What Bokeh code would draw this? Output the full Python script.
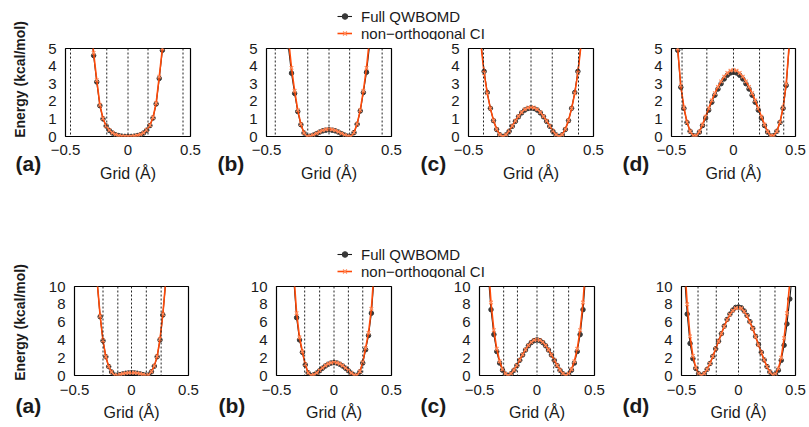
import math
from bokeh.plotting import figure
from bokeh.models import Range1d, FixedTicker, Span, Legend, LegendItem, ColumnDataSource, Plot
from bokeh.layouts import column, row
from bokeh.core.properties import value
from bokeh.embed import file_html
from bokeh.resources import INLINE

N = float("nan")

# grid (Angstrom)
X = [-0.475, -0.45, -0.425, -0.4, -0.375, -0.35, -0.325, -0.3, -0.275, -0.25,
     -0.225, -0.2, -0.175, -0.15, -0.125, -0.1, -0.075, -0.05, -0.025, 0.0,
     0.025, 0.05, 0.075, 0.1, 0.125, 0.15, 0.175, 0.2, 0.225, 0.25,
     0.275, 0.3, 0.325, 0.35, 0.375, 0.4, 0.425, 0.45, 0.475]

# ---- top row (kcal/mol, 0-5) ----
QW_TOP_A = [N, N, N, N, N, N, N, 6.5, 4.6, 3.1, 1.75, 1.0, 0.6, 0.35, 0.2, 0.1, 0.05, 0.02, 0.005, 0.0,
            0.005, 0.02, 0.05, 0.1, 0.2, 0.36, 0.62, 1.05, 1.85, 3.3, 4.9, 6.8, N, N, N, N, N, N, N]
CI_TOP_A = [N, N, N, N, N, N, N, 6.6, 4.75, 3.2, 1.8, 1.02, 0.6, 0.36, 0.21, 0.11, 0.05, 0.02, 0.01, 0.0,
            0.01, 0.03, 0.06, 0.11, 0.21, 0.37, 0.64, 1.08, 1.9, 3.4, 5.0, 6.9, N, N, N, N, N, N, N]
QW_TOP_B = [N, N, N, N, N, 7.0, 5.1, 3.6, 2.45, 1.42, 0.67, 0.2, 0.0, 0.02, 0.08, 0.16, 0.25, 0.32, 0.36, 0.38,
            0.36, 0.32, 0.25, 0.16, 0.08, 0.02, 0.0, 0.22, 0.7, 1.45, 2.5, 3.65, 5.2, 7.1, N, N, N, N, N]
CI_TOP_B = [N, N, N, N, N, 7.5, 5.6, 3.9, 2.6, 1.5, 0.7, 0.2, 0.0, 0.025, 0.09, 0.18, 0.27, 0.35, 0.40, 0.42,
            0.40, 0.35, 0.27, 0.18, 0.09, 0.025, 0.0, 0.22, 0.72, 1.5, 2.6, 3.9, 5.6, 7.5, N, N, N, N, N]
QW_TOP_C = [N, N, 7.3, 5.3, 3.7, 2.5, 1.6, 0.9, 0.4, 0.1, 0.0, 0.09, 0.3, 0.58, 0.86, 1.12, 1.34, 1.5, 1.59, 1.62,
            1.59, 1.5, 1.34, 1.12, 0.86, 0.58, 0.3, 0.09, 0.0, 0.1, 0.4, 0.9, 1.6, 2.5, 3.7, 5.3, 7.3, N, N]
CI_TOP_C = [N, N, 7.2, 5.2, 3.6, 2.45, 1.6, 0.92, 0.42, 0.1, 0.0, 0.1, 0.32, 0.6, 0.89, 1.15, 1.38, 1.54, 1.63, 1.66,
            1.63, 1.54, 1.38, 1.15, 0.89, 0.6, 0.32, 0.1, 0.0, 0.1, 0.42, 0.92, 1.6, 2.45, 3.6, 5.2, 7.2, N, N]
QW_TOP_D = [7.5, 4.9, 2.8, 1.6, 0.8, 0.3, 0.05, 0.03, 0.25, 0.62, 1.05, 1.5, 1.95, 2.35, 2.7, 3.0, 3.27, 3.48, 3.61, 3.65,
            3.61, 3.48, 3.27, 3.0, 2.7, 2.35, 1.95, 1.5, 1.05, 0.62, 0.25, 0.03, 0.05, 0.3, 0.8, 1.6, 2.9, 5.2, 7.8]
CI_TOP_D = [7.6, 5.0, 2.9, 1.65, 0.82, 0.3, 0.05, 0.04, 0.28, 0.68, 1.13, 1.6, 2.05, 2.46, 2.82, 3.13, 3.4, 3.61, 3.74, 3.78,
            3.74, 3.61, 3.4, 3.13, 2.82, 2.46, 2.05, 1.6, 1.13, 0.68, 0.28, 0.04, 0.05, 0.3, 0.82, 1.65, 3.0, 5.3, 7.9]

# ---- bottom row (kcal/mol, 0-10) ----
QW_BOT_A = [N, N, N, N, N, N, N, 10.3, 6.6, 3.9, 2.1, 1.0, 0.4, 0.05, 0.03, 0.1, 0.18, 0.25, 0.29, 0.3,
            0.29, 0.25, 0.18, 0.1, 0.03, 0.06, 0.42, 1.05, 2.1, 4.0, 6.8, 10.5, N, N, N, N, N, N, N]
CI_BOT_A = [N, N, N, N, N, N, N, 10.4, 6.7, 3.95, 2.1, 1.0, 0.4, 0.05, 0.03, 0.11, 0.2, 0.27, 0.31, 0.32,
            0.31, 0.27, 0.2, 0.11, 0.03, 0.06, 0.43, 1.08, 2.15, 4.1, 6.9, 10.6, N, N, N, N, N, N, N]
QW_BOT_B = [N, N, N, N, N, 10.8, 6.5, 4.0, 2.6, 1.2, 0.3, 0.0, 0.08, 0.28, 0.54, 0.82, 1.07, 1.27, 1.40, 1.45,
            1.40, 1.27, 1.07, 0.82, 0.54, 0.26, 0.05, 0.02, 0.4, 1.4, 2.9, 4.5, 7.0, 11.2, N, N, N, N, N]
CI_BOT_B = [N, N, N, N, N, 11.5, 7.0, 4.3, 2.7, 1.25, 0.3, 0.0, 0.09, 0.3, 0.57, 0.86, 1.12, 1.32, 1.44, 1.48,
            1.44, 1.32, 1.12, 0.86, 0.57, 0.28, 0.06, 0.03, 0.45, 1.5, 3.1, 4.8, 7.5, 12.0, N, N, N, N, N]
QW_BOT_C = [N, N, 11.5, 7.4, 4.6, 2.7, 1.4, 0.6, 0.15, 0.0, 0.2, 0.59, 1.12, 1.71, 2.31, 2.86, 3.34, 3.70, 3.92, 4.0,
            3.92, 3.70, 3.34, 2.86, 2.31, 1.71, 1.12, 0.59, 0.2, 0.0, 0.15, 0.6, 1.4, 2.7, 4.6, 7.4, 11.5, N, N]
CI_BOT_C = [N, N, 12.8, 8.2, 5.1, 3.0, 1.6, 0.7, 0.2, 0.0, 0.22, 0.62, 1.15, 1.75, 2.35, 2.9, 3.38, 3.75, 3.97, 4.05,
            3.97, 3.75, 3.38, 2.9, 2.35, 1.75, 1.15, 0.62, 0.22, 0.0, 0.2, 0.7, 1.6, 3.0, 5.1, 8.2, 12.8, N, N]
QW_BOT_D = [11.5, 6.9, 3.6, 1.9, 0.8, 0.2, 0.0, 0.2, 0.7, 1.35, 2.15, 3.0, 3.85, 4.7, 5.55, 6.3, 6.9, 7.35, 7.65, 7.7,
            7.6, 7.25, 6.75, 6.05, 5.3, 4.4, 3.5, 2.6, 1.75, 1.0, 0.4, 0.05, 0.15, 0.6, 1.7, 3.4, 5.8, 8.6, 11.8]
CI_BOT_D = [13.0, 8.0, 4.4, 2.2, 0.9, 0.22, 0.0, 0.22, 0.7, 1.35, 2.15, 3.0, 3.85, 4.7, 5.5, 6.25, 6.85, 7.3, 7.55, 7.6,
            7.55, 7.2, 6.7, 6.0, 5.25, 4.35, 3.45, 2.6, 1.75, 1.0, 0.4, 0.05, 0.18, 0.8, 2.0, 4.2, 7.0, 10.5, 14.0]

# dotted vertical guide lines (Angstrom)
VL_TOP_A = [-0.46, -0.17, 0.0, 0.16, 0.44]
VL_TOP_B = [-0.43, -0.17, 0.0, 0.165, 0.425]
VL_TOP_C = [-0.38, -0.17, 0.0, 0.17, 0.38]
VL_TOP_D = [-0.415, -0.215, 0.0, 0.21, 0.405]
VL_BOT_A = [-0.25, -0.12, 0.0, 0.13, 0.26]
VL_BOT_B = [-0.255, -0.125, 0.0, 0.125, 0.25]
VL_BOT_C = [-0.29, -0.17, 0.0, 0.145, 0.275]
VL_BOT_D = [-0.355, -0.195, 0.0, 0.19, 0.32]

X_TICKS = [-0.5, 0, 0.5]
X_TICK_LABELS = {-0.5: "\u22120.5", 0: "0", 0.5: "0.5"}
Y_TICKS_TOP = [0, 1, 2, 3, 4, 5]
Y_TICKS_BOT = [0, 2, 4, 6, 8, 10]
PANEL_LETTERS = ["(a)", "(b)", "(c)", "(d)"]
SERIES_NAMES = ["Full QWBOMD", "non\u2212orthogonal CI"]
Y_LABEL = "Energy (kcal/mol)"
X_LABEL = "Grid (\u00c5)"

FONT = "Liberation Sans"
TXT = "#1a1a1a"
BLACK_LINE = "#1c1c1c"
BLACK_MARK = "#383838"
ORANGE_LINE = "#ff4a08"
ORANGE_MARK = "#ff8a5a"

HAS_FRAME_ALIGN = "frame_align" in Plot.properties()


def draw_series(p, src):
    r1 = p.line("x", "qw", source=src, line_color=BLACK_LINE, line_width=1.1)
    r2 = p.scatter("x", "qw", source=src, marker="circle", size=4.5, fill_color=BLACK_MARK,
                   line_color=BLACK_MARK)
    r3 = p.line("x", "ci", source=src, line_color=ORANGE_LINE, line_width=1.6)
    r4 = p.scatter("x", "ci", source=src, marker="x", size=5, line_color=ORANGE_MARK, line_width=1.2)
    return r1, r2, r3, r4


def bare(w, h):
    f = figure(width=w, height=h, x_range=Range1d(0, w), y_range=Range1d(0, h),
               output_backend="svg", toolbar_location=None, min_border=0,
               x_axis_type=None, y_axis_type=None)
    f.outline_line_color = None
    f.xgrid.visible = False
    f.ygrid.visible = False
    if HAS_FRAME_ALIGN:
        f.frame_align = False
    return f


def gap_fig(w, h, texts):
    """Narrow strip holding panel letters (and y label); positions in px from top-left."""
    f = bare(w, h)
    for (tx, ty, t, size, align, ang) in texts:
        f.text(x=[tx], y=[h - ty], text=[t], angle=ang, text_font=value(FONT),
               text_font_size=size, text_font_style="bold", text_color=TXT,
               text_align=align, text_baseline="middle")
    return f


def panel(qw, ci, vlines, ymax, yticks, w, h, bl, br, bt, bb, tick_sd_x, lab_sd_x):
    p = figure(width=w, height=h, x_range=Range1d(-0.5, 0.5), y_range=Range1d(0, ymax),
               output_backend="svg", toolbar_location=None,
               min_border_left=bl, min_border_right=br, min_border_top=bt, min_border_bottom=bb)
    p.xgrid.visible = False
    p.ygrid.visible = False
    p.outline_line_color = "black"
    p.outline_line_width = 1.2
    for v in vlines:
        p.add_layout(Span(location=v, dimension="height", line_color="#222222",
                          line_width=1, line_dash="2 2"))
    src = ColumnDataSource(dict(x=X, qw=qw, ci=ci))
    draw_series(p, src)

    xa = p.xaxis[0]
    xa.ticker = FixedTicker(ticks=X_TICKS)
    xa.major_label_overrides = X_TICK_LABELS
    xa.axis_label = X_LABEL
    xa.axis_label_text_font = FONT
    xa.axis_label_text_font_size = "16px"
    xa.axis_label_text_font_style = "normal"
    xa.axis_label_text_color = TXT
    xa.axis_label_standoff = lab_sd_x
    xa.major_label_standoff = tick_sd_x
    ya = p.yaxis[0]
    ya.ticker = FixedTicker(ticks=yticks)
    ya.major_label_standoff = 9
    for ax in (xa, ya):
        ax.axis_line_color = None
        ax.major_tick_line_color = None
        ax.minor_tick_line_color = None
        ax.major_tick_out = 0
        ax.major_tick_in = 0
        ax.major_label_text_font = FONT
        ax.major_label_text_font_size = "15px"
        ax.major_label_text_color = TXT
    return p


def legend_strip(w, h, gx, loc_y):
    lf = bare(w, h)
    r1, r2, r3, r4 = draw_series(lf, ColumnDataSource(dict(x=[-50.0], qw=[-50.0], ci=[-50.0])))
    leg = Legend(items=[LegendItem(label=SERIES_NAMES[0], renderers=[r1, r2]),
                        LegendItem(label=SERIES_NAMES[1], renderers=[r3, r4])],
                 location=(gx, loc_y), padding=0, margin=0, spacing=0,
                 glyph_width=15, glyph_height=14, label_height=14, label_standoff=9,
                 label_text_font=FONT, label_text_font_size="15px", label_text_color=TXT,
                 border_line_color=None, background_fill_alpha=0)
    lf.add_layout(leg)
    return lf


def letter_col(w, h, texts):
    return column(gap_fig(w, h, texts))


LEFT_W = 45
GAP_W = 36
RIGHT_W = 809 - LEFT_W

# ---------- top block ----------
TOP_LEG_H = 40
TOP_PAN_H = 195
top_panels = [
    panel(QW_TOP_A, CI_TOP_A, VL_TOP_A, 5, Y_TICKS_TOP, 165, TOP_PAN_H, 19, 20, 8, 99, 8, 7),
    panel(QW_TOP_B, CI_TOP_B, VL_TOP_B, 5, Y_TICKS_TOP, 166, TOP_PAN_H, 20, 21, 8, 99, 8, 7),
    panel(QW_TOP_C, CI_TOP_C, VL_TOP_C, 5, Y_TICKS_TOP, 166, TOP_PAN_H, 20, 21, 8, 99, 8, 7),
    panel(QW_TOP_D, CI_TOP_D, VL_TOP_D, 5, Y_TICKS_TOP, 159, TOP_PAN_H, 21, 14, 8, 99, 8, 7),
]
top_gaps = [letter_col(GAP_W, TOP_PAN_H, [(7, 123, PANEL_LETTERS[1], "21px", "left", 0)]),
            letter_col(GAP_W, TOP_PAN_H, [(8, 123, PANEL_LETTERS[2], "21px", "left", 0)]),
            letter_col(GAP_W, TOP_PAN_H, [(8, 123, PANEL_LETTERS[3], "21px", "left", 0)])]
top_left = gap_fig(LEFT_W, TOP_LEG_H + TOP_PAN_H,
                   [(15, 163, PANEL_LETTERS[0], "21px", "left", 0),
                    (19, 79, Y_LABEL, "14px", "center", math.pi / 2)])
top_block = row(top_left, column(
    legend_strip(RIGHT_W, TOP_LEG_H, 337 - LEFT_W, -1.5),
    row(top_panels[0], top_gaps[0], top_panels[1], top_gaps[1], top_panels[2], top_gaps[2],
        top_panels[3])))

# ---------- bottom block ----------
BOT_LEG_H = 43
BOT_PAN_H = 148
bot_panels = [
    panel(QW_BOT_A, CI_BOT_A, VL_BOT_A, 10, Y_TICKS_BOT, 165, BOT_PAN_H, 28, 22, 8, 51, 9, 6),
    panel(QW_BOT_B, CI_BOT_B, VL_BOT_B, 10, Y_TICKS_BOT, 166, BOT_PAN_H, 30, 21, 8, 51, 9, 6),
    panel(QW_BOT_C, CI_BOT_C, VL_BOT_C, 10, Y_TICKS_BOT, 166, BOT_PAN_H, 31, 20, 8, 51, 9, 6),
    panel(QW_BOT_D, CI_BOT_D, VL_BOT_D, 10, Y_TICKS_BOT, 159, BOT_PAN_H, 31, 14, 8, 51, 9, 6),
]
bot_gaps = [letter_col(GAP_W, BOT_PAN_H, [(8, 127, PANEL_LETTERS[1], "21px", "left", 0)]),
            letter_col(GAP_W, BOT_PAN_H, [(8, 127, PANEL_LETTERS[2], "21px", "left", 0)]),
            letter_col(GAP_W, BOT_PAN_H, [(8, 127, PANEL_LETTERS[3], "21px", "left", 0)])]
bot_left = gap_fig(LEFT_W, BOT_LEG_H + BOT_PAN_H,
                   [(15, 170, PANEL_LETTERS[0], "21px", "left", 0),
                    (19, 87, Y_LABEL, "14px", "center", math.pi / 2)])
bot_block = row(bot_left, column(
    legend_strip(RIGHT_W, BOT_LEG_H, 337 - LEFT_W, -1.5),
    row(bot_panels[0], bot_gaps[0], bot_panels[1], bot_gaps[1], bot_panels[2], bot_gaps[2],
        bot_panels[3])))

layout = column(top_block, bot_block)

with open("out.html", "w") as f:
    f.write(file_html(layout, INLINE))
